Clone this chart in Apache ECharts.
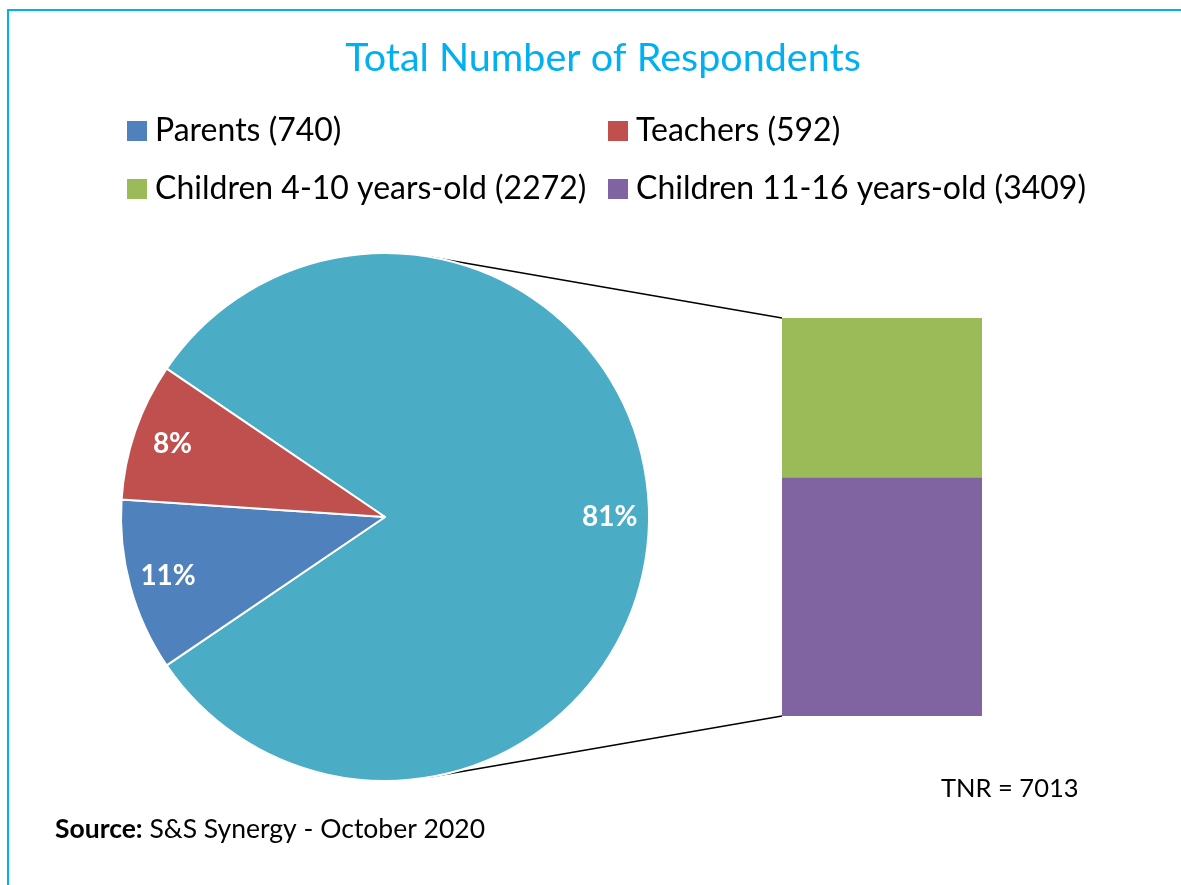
<!DOCTYPE html>
<html>
<head>
<meta charset="utf-8">
<title>Total Number of Respondents</title>
<script src="https://cdn.jsdelivr.net/npm/echarts@6/dist/echarts.min.js"></script>
<style>
  html, body { margin: 0; padding: 0; background: #ffffff; }
  #chart { width: 1181px; height: 885px; }
</style>
</head>
<body>
<div id="chart"></div>
<script>
// Respondent groups shown in the pie
const pieNames = ['Parents', 'Teachers'];
const pieValues = [740, 592];
// Children, broken out into the stacked column on the right
const childNames = ['Children 4-10 years-old', 'Children 11-16 years-old'];
const childValues = [2272, 3409];
const childGroupName = 'Children';

const FONT = 'Lato, "Open Sans", sans-serif';
const colors = {
  'Parents': '#4F81BD',
  'Teachers': '#C0504D',
  'Children': '#4BACC6',
  'Children 4-10 years-old': '#9BBB59',
  'Children 11-16 years-old': '#8064A2'
};

const childTotal = childValues.reduce((a, b) => a + b, 0);
const smallTotal = pieValues.reduce((a, b) => a + b, 0);
const grandTotal = childTotal + smallTotal;
const withCount = (n, v) => n + ' (' + v + ')';

// pie layout
const CX = 385, CY = 517, R = 264;
// the small slices sit centred on the left side of the pie
const startAngle = 180 - (smallTotal / grandTotal) * 360 / 2;

// column layout
const G = { left: 782, top: 318, width: 200, height: 398 };

const pieData = [{ name: childGroupName, value: childTotal, itemStyle: { color: colors[childGroupName] } }]
  .concat(pieNames.map((n, i) => ({ name: withCount(n, pieValues[i]), value: pieValues[i], itemStyle: { color: colors[n] } })));

const legendText = { fontFamily: FONT, fontSize: 32, color: '#000000', lineHeight: 34, padding: [0, 0, 0, 3] };

const chart = echarts.init(document.getElementById('chart'), null, { renderer: 'canvas' });

const option = {
  backgroundColor: '#ffffff',
  animation: false,
  title: {
    text: 'Total Number of Respondents',
    left: 598, top: 33, textAlign: 'center',
    textStyle: { fontFamily: FONT, fontSize: 39.5, fontWeight: 'normal', color: '#00B0F0' }
  },
  legend: [
    {
      orient: 'vertical', left: 127, top: 114, itemGap: 24, padding: 0,
      icon: 'rect', itemWidth: 20, itemHeight: 20, itemStyle: { borderWidth: 0 },
      textStyle: legendText, selectedMode: false,
      data: [withCount(pieNames[0], pieValues[0]), withCount(childNames[0], childValues[0])]
    },
    {
      orient: 'vertical', left: 608, top: 114, itemGap: 24, padding: 0,
      icon: 'rect', itemWidth: 20, itemHeight: 20, itemStyle: { borderWidth: 0 },
      textStyle: legendText, selectedMode: false,
      data: [withCount(pieNames[1], pieValues[1]), withCount(childNames[1], childValues[1])]
    }
  ],
  grid: { left: G.left, top: G.top, width: G.width, height: G.height },
  xAxis: { type: 'category', data: [''], show: false },
  yAxis: { type: 'value', min: 0, max: childTotal, show: false },
  series: [
    {
      type: 'pie', name: 'groups',
      center: [CX, CY], radius: [0, R],
      startAngle: startAngle, clockwise: true,
      itemStyle: { borderColor: '#ffffff', borderWidth: 2 },
      label: { show: false }, labelLine: { show: false },
      emphasis: { disabled: true },
      data: pieData
    },
    {
      // percentage labels placed towards the rim
      type: 'pie', name: 'labels', silent: true,
      center: [CX, CY], radius: [R * 0.68, R],
      startAngle: startAngle, clockwise: true,
      percentPrecision: 0,
      itemStyle: { color: 'rgba(0,0,0,0)' },
      label: {
        show: true, position: 'inside',
        formatter: p => p.percent + '%',
        fontFamily: FONT, fontSize: 28, fontWeight: 'bold', color: '#ffffff'
      },
      labelLine: { show: false },
      emphasis: { disabled: true },
      legendHoverLink: false,
      data: pieData.map(d => ({ name: '_' + d.name, value: d.value }))
    },
    {
      type: 'bar', name: withCount(childNames[1], childValues[1]), stack: 'kids',
      barWidth: '100%', itemStyle: { color: colors[childNames[1]] },
      data: [childValues[1]]
    },
    {
      type: 'bar', name: withCount(childNames[0], childValues[0]), stack: 'kids',
      barWidth: '100%', itemStyle: { color: colors[childNames[0]] },
      data: [childValues[0]]
    }
  ]
};

chart.setOption(option);

// connector lines: tangent from each column corner to the pie
function tangentPoint(px, py, upper) {
  const dx = px - CX, dy = CY - py;
  const d = Math.sqrt(dx * dx + dy * dy);
  const theta = Math.atan2(dy, dx);
  const alpha = Math.acos(R / d);
  const phi = upper ? theta + alpha : theta - alpha;
  return [CX + R * Math.cos(phi), CY - R * Math.sin(phi)];
}
const topY = chart.convertToPixel({ yAxisIndex: 0 }, childTotal);
const botY = chart.convertToPixel({ yAxisIndex: 0 }, 0);
const tTop = tangentPoint(G.left, topY, true);
const tBot = tangentPoint(G.left, botY, false);

chart.setOption({
  graphic: [
    {
      type: 'rect', silent: true, z: -1,
      shape: { x: 8, y: 10, width: 1200, height: 900 },
      style: { fill: 'none', stroke: '#00B0F0', lineWidth: 2 }
    },
    {
      type: 'line', silent: true,
      shape: { x1: tTop[0], y1: tTop[1], x2: G.left, y2: topY },
      style: { stroke: '#000000', lineWidth: 1.5 }
    },
    {
      type: 'line', silent: true,
      shape: { x1: tBot[0], y1: tBot[1], x2: G.left, y2: botY },
      style: { stroke: '#000000', lineWidth: 1.5 }
    },
    {
      type: 'text', x: 941, y: 789, silent: true,
      style: { text: 'TNR = ' + grandTotal, fontFamily: FONT, fontSize: 25.5, fill: '#000000', align: 'left', verticalAlign: 'middle' }
    },
    {
      type: 'text', x: 55, y: 829, silent: true,
      style: {
        text: '{b|Source:} S&S Synergy - October 2020',
        fontFamily: FONT, fontSize: 26.5, fill: '#000000', align: 'left', verticalAlign: 'middle',
        rich: { b: { fontFamily: FONT, fontSize: 26.5, fontWeight: 'bold', fill: '#000000' } }
      }
    }
  ]
});
</script>
</body>
</html>
